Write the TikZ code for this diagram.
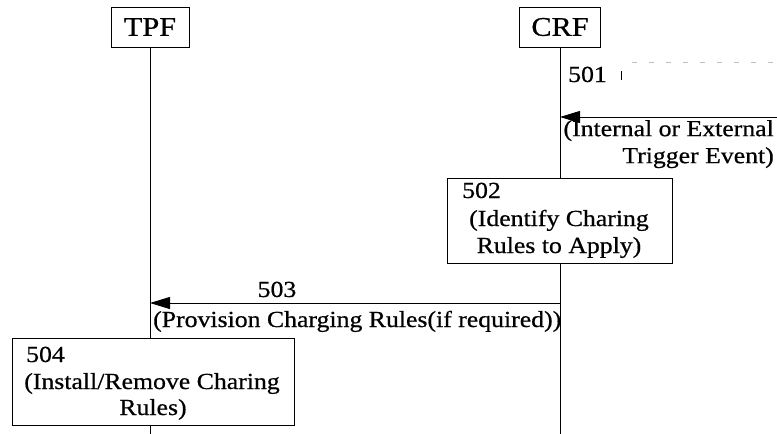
\documentclass[tikz,border=0pt]{standalone}
\usepackage{fontspec}
\setmainfont{Liberation Serif}[FakeStretch=1.12,FakeBold=0.6]
\usetikzlibrary{arrows.meta}
\begin{document}
\begin{tikzpicture}[x=1pt,y=-1pt,
  ent/.style={draw, line width=1pt, fill=white, inner sep=0pt, minimum width=78pt, minimum height=40pt, font=\fontsize{27}{30}\selectfont},
  procbox/.style={draw, line width=1pt, fill=white, inner sep=0pt},
  lbl/.style={font=\fontsize{23}{27}\selectfont, inner sep=0pt},
  life/.style={line width=1pt},
  msg/.style={line width=1pt, -{Triangle[length=20pt,width=12pt]}}]
\useasboundingbox (0,0) rectangle (777,434);
% entities
\node[ent] (tpf) at (150,27) {TPF};
\node[ent, minimum width=81pt] (crf) at (560,27) {CRF};
\coordinate (tpfend) at (150,434);
\coordinate (crfend) at (560,434);
% lifelines
\draw[life] (tpf.south) -- (tpfend);
\draw[life] (crf.south) -- (crfend);
% 501
\node[lbl, anchor=base west] (l501) at (568,82) {501};
\coordinate (dashA) at (632,62);
\coordinate (dashB) at (777,62);
\draw[line width=0.6pt, gray!50, dash pattern=on 5pt off 12pt] (dashA) -- (dashB);
\coordinate (tickA) at (621,71);
\coordinate (tickB) at (621,80);
\draw[line width=1pt] (tickA) -- (tickB);
\coordinate (ext) at (777,117);
\coordinate (c501) at (560,117);
\draw[msg] (ext) -- (c501);
\node[lbl, anchor=north east, align=right] (t501) at (774,120) {(Internal or External\\Trigger Event)};
% 502
\node[procbox, minimum width=225pt, minimum height=85pt] (b502) at (559.5,220.5) {};
\node[lbl, anchor=base west] (n502) at (462,198) {502};
\node[lbl, anchor=base, align=center] (t502) at (559,226) {(Identify Charing};
\node[lbl, anchor=base, align=center] (t502b) at (559,253) {Rules to Apply)};
% 503
\coordinate (c503a) at (560,303);
\coordinate (c503b) at (150,303);
\draw[msg] (c503a) -- (c503b);
\node[lbl, anchor=base] (n503) at (277,297) {503};
\node[lbl, anchor=base west] (t503) at (153,327) {(Provision Charging Rules(if required))};
% 504
\node[procbox, minimum width=282pt, minimum height=87pt] (b504) at (153,381.5) {};
\node[lbl, anchor=base west] (n504) at (26,362) {504};
\node[lbl, anchor=base] (t504) at (152,389) {(Install/Remove Charing};
\node[lbl, anchor=base] (t504b) at (153,415) {Rules)};
\end{tikzpicture}
\end{document}
